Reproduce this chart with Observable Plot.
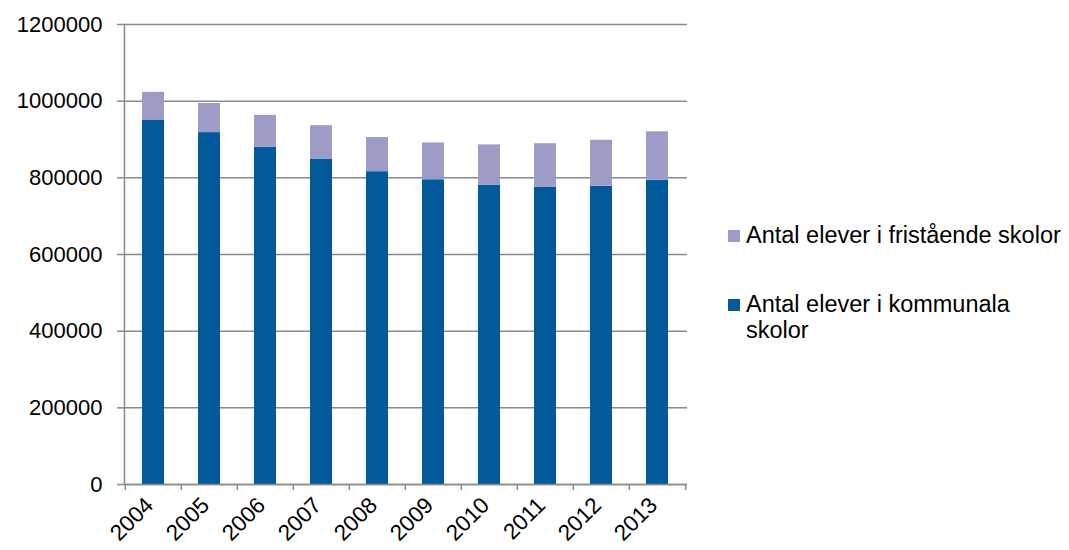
<!DOCTYPE html>
<html><head><meta charset="utf-8">
<script src="https://cdn.jsdelivr.net/npm/d3@7"></script>
<script src="https://cdn.jsdelivr.net/npm/@observablehq/plot@0.6"></script>
<style>
body{margin:0;background:#fff;font-family:"Liberation Sans",Arial,sans-serif;}
#wrap{position:relative;width:1069px;height:550px;overflow:hidden;}
.sw{position:absolute;width:12px;height:12px;}
.lt{position:absolute;left:746px;font-size:23.5px;line-height:26px;color:#000;white-space:nowrap;}
</style></head>
<body><div id="wrap"><div id="chart"></div><div id="legend"></div></div>
<script>
const years = ["2004","2005","2006","2007","2008","2009","2010","2011","2012","2013"];
const kommunala = [951000, 918000, 880000, 849000, 816000, 795000, 781000, 775000, 778000, 794000];
const fristaende = [72000, 76000, 83000, 87000, 89000, 96000, 105000, 114000, 120000, 126000];
const seriesNames = ["Antal elever i kommunala skolor", "Antal elever i fristående skolor"];
const seriesColors = ["#02599c", "#9c9cc6"];
const yTicks = [0, 200000, 400000, 600000, 800000, 1000000, 1200000];

const data = [];
years.forEach((y, i) => {
  data.push({year: y, series: seriesNames[0], value: kommunala[i]});
  data.push({year: y, series: seriesNames[1], value: fristaende[i]});
});

const W = 1069, H = 550, mL = 124, mR = 382, mT = 24, mB = 66;
const step = (W - mL - mR) / years.length;
const gray = "#8a8a8a";

const chart = Plot.plot({
  width: W, height: H,
  marginLeft: mL, marginRight: mR, marginTop: mT, marginBottom: mB,
  style: {fontFamily: '"Liberation Sans", Arial, sans-serif', background: "#fff", color: "#000"},
  x: {domain: years, paddingInner: 0.6, paddingOuter: 0.3, label: null},
  y: {domain: [0, 1200000], label: null},
  color: {domain: seriesNames, range: seriesColors},
  marks: [
    Plot.gridY(yTicks, {stroke: gray, strokeOpacity: 1, strokeWidth: 1.5}),
    Plot.barY(data, {x: "year", y: "value", fill: "series", order: seriesNames}),
    Plot.ruleY([0], {stroke: gray, strokeWidth: 1.5}),
    Plot.frame({anchor: "left", stroke: gray, strokeWidth: 1.5}),
    Plot.axisY(yTicks, {tickSize: 7, tickPadding: 15, stroke: gray, strokeWidth: 1.5, fontSize: 22, tickFormat: d => String(d), fill: "#000"}),
    Plot.ruleX(years, {x: d => d, y1: 0, y2: 0, dx: -step / 2, insetBottom: -6, stroke: gray, strokeWidth: 1.5}),
    Plot.ruleX(years.slice(-1), {x: d => d, y1: 0, y2: 0, dx: step / 2, insetBottom: -6, stroke: gray, strokeWidth: 1.5}),
    Plot.axisX({tickSize: 0, tickPadding: 17, dx: -4, tickRotate: -45, fontSize: 22.5, fill: "#000"})
  ]
});
document.getElementById("chart").appendChild(chart);

// legend (HTML, right side)
const legendItems = [
  {name: seriesNames[1], color: seriesColors[1], lines: ["Antal elever i fristående skolor"], top: 222},
  {name: seriesNames[0], color: seriesColors[0], lines: ["Antal elever i kommunala", "skolor"], top: 291}
];
const lg = document.getElementById("legend");
legendItems.forEach(it => {
  const sw = document.createElement("span");
  sw.className = "sw";
  sw.style.background = it.color;
  sw.style.left = "728px";
  sw.style.top = (it.top + 8) + "px";
  lg.appendChild(sw);
  const t = document.createElement("div");
  t.className = "lt";
  t.style.top = it.top + "px";
  t.innerHTML = it.lines.join("<br>");
  lg.appendChild(t);
});
</script>
</body></html>
